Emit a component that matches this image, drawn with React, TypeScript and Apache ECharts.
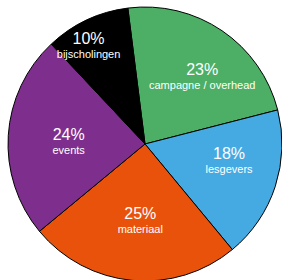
import React, { useEffect, useRef } from "react";
import * as echarts from "echarts";

const categories = ["campagne / overhead", "lesgevers", "materiaal", "events", "bijscholingen"];
const values = [23, 18, 25, 24, 10];
const colors = ["#4caf65", "#46aae2", "#e8520b", "#7e2f8e", "#000000"];
// label nudges (px) relative to ECharts' default inside position
const labelShift: [number, number][] = [
  [17, -9],
  [16, -6],
  [2, 5],
  [-5, 1],
  [-26, -34],
];

export default function App() {
  const ref = useRef<HTMLDivElement>(null);
  useEffect(() => {
    const chart = echarts.init(ref.current!, undefined, { renderer: "svg" });
    chart.setOption({
      animation: false,
      series: [
        {
          type: "pie",
          center: [145, 144],
          radius: [0, 137],
          startAngle: 97.2,
          clockwise: true,
          data: categories.map((name, i) => ({
            name,
            value: values[i],
            itemStyle: { color: colors[i] },
          })),
          itemStyle: { borderColor: "#000", borderWidth: 1 },
          label: {
            show: true,
            position: "inside",
            color: "#fff",
            fontFamily: "Liberation Sans, Arial, sans-serif",
            formatter: (p: any) => `{p|${p.value}%}\n{n|${p.name}}`,
            rich: {
              p: { fontSize: 16, lineHeight: 18, color: "#fff", fontFamily: "Liberation Sans, Arial, sans-serif" },
              n: { fontSize: 11, lineHeight: 13, color: "#fff", fontFamily: "Liberation Sans, Arial, sans-serif" },
            },
          },
          labelLayout: (params: any) => {
            const s = labelShift[params.dataIndex] || [0, 0];
            return { dx: s[0], dy: s[1] };
          },
          labelLine: { show: false },
          emphasis: { disabled: true },
        },
      ],
    });
    return () => chart.dispose();
  }, []);
  return <div ref={ref} style={{ width: 282, height: 280, position: "absolute", left: 0, top: 0 }} />;
}
